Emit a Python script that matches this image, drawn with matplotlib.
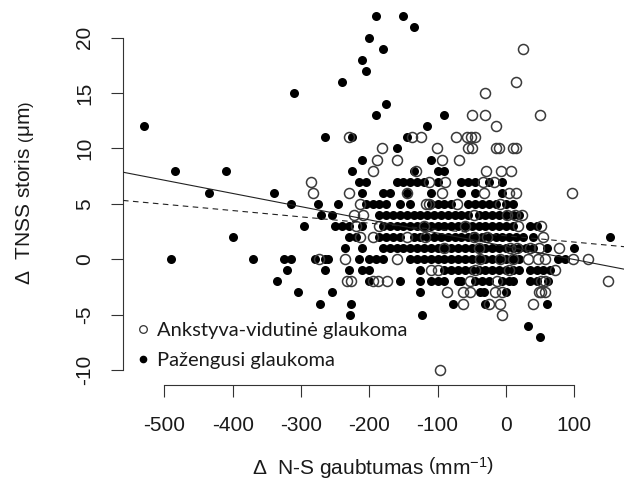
import matplotlib
matplotlib.use('Agg')
import matplotlib.pyplot as plt
from matplotlib.lines import Line2D
from matplotlib.font_manager import FontProperties

plt.rcParams['font.family'] = ['Liberation Sans', 'DejaVu Sans']
plt.rcParams['mathtext.fontset'] = 'custom'
plt.rcParams['mathtext.rm'] = 'Liberation Sans'
plt.rcParams['mathtext.it'] = 'Liberation Sans:italic'
plt.rcParams['axes.unicode_minus'] = False

#%% Data: delta N-S curvature (x) grouped by delta TNSS thickness (y, whole um)
#-------------------------------------------------
# Pažengusi glaukoma (filled points)
adv_rows = {
    22: [-190, -150],
    21: [-135],
    20: [-200],
    19: [-180],
    18: [-210],
    17: [-205],
    16: [-240],
    15: [-310],
    14: [-175],
    13: [-190, -90],
    12: [-530, -115],
    11: [-265, -225, -145],
    10: [-160],
    9: [-210, -110],
    8: [-485, -410, -225, -135, -100, -90],
    7: [-215, -205, -160, -150, -140, -130, -120, -100, -65, -55, -45, -25, -5],
    6: [-435, -340, -210, -180, -170, -145, -110, -65, -45, -5],
    5: [-315, -275, -245, -205, -195, -185, -175, -155, -140, -110, -100, -90,
        -80, -55, -45, -35, -25, -15, 0, 10],
    4: [-270, -255, -185, -175, -165, -155, -145, -135, -125, -115, -105, -95,
        -85, -75, -65, -55, -40, -30, -20, -10, 0, 10, 20],
    3: [-295, -250, -240, -230, -210, -180, -170, -160, -150, -140, -130, -120,
        -110, -100, -90, -80, -70, -60, -50, -40, -30, -20, -10, 0, 10, 35, 45],
    2: [-400, -230, -220, -185, -175, -165, -155, -135, -125, -115, -105, -95,
        -85, -75, -65, -55, -45, -35, -25, -15, -5, 5, 15, 25, 40, 152],
    1: [-235, -210, -180, -170, -160, -150, -140, -130, -120, -110, -100, -90,
        -80, -70, -60, -50, -40, -30, -20, -10, 0, 10, 20, 30, 40, 60, 100],
    0: [-490, -370, -325, -315, -280, -265, -260, -215, -200, -190, -180, -140,
        -130, -120, -110, -100, -90, -80, -70, -60, -50, -40, -30, -20, -10,
        0, 10, 20, 77, 87],
    -1: [-320, -265, -230, -210, -200, -125, -90, -80, -70, -60, -50, -40, -30,
         -20, -10, 0, 10, 20, 35, 45, 55, 65],
    -2: [-335, -200, -155, -125, -110, -100, -90, -70, -65, -45, -35, -25, -5,
         5, 10, 35, 45, 62],
    -3: [-305, -255, -125, -38, -32, 0],
    -4: [-272, -226, -78, -30, 60],
    -5: [-228, -123],
    -6: [32],
    -7: [50],
}

# Ankstyva-vidutinė glaukoma (open points)
early_rows = {
    19: [25],
    16: [15],
    15: [-30],
    13: [-50, -30, 50],
    12: [-15],
    11: [-230, -138, -124, -73, -57, -51, -45],
    10: [-182, -101, -55, -50, -15, -10, 10, 15],
    9: [-188, -160, -94, -69],
    8: [-195, -132, -29, -7, 7],
    7: [-285, -113, -89, -34, -18],
    6: [-283, -229, -145, -94, -32, 5, 15, 97],
    5: [-213, -117, -112, -72, -8],
    4: [-223, -209, -47, 2, 14, 23],
    3: [-220, -185, -120, -60, 18, 52],
    2: [-213, -194, -145, -118, -47, -28, 55],
    1: [-90, -40, 6, 16, 35, 48, 78],
    0: [-273, -235, -160, -38, -8, 11, 33, 47, 57, 98, 121],
    -1: [-110, -100, -45, 5, 72],
    -2: [-233, -226, -194, -187, -174, -52, -13, 52, 57, 150],
    -3: [-86, -62, -52, -16, -6, 48, 52, 57],
    -4: [-62, -25, -8, 40],
    -5: [-6],
    -10: [-96],
}

# fitted lines (intercept, slope)
fit_solid = (1.17, -0.01193)
fit_dashed = (2.12, -0.00569)

x_ticks = [-500, -400, -300, -200, -100, 0, 100]
y_ticks = [-10, -5, 0, 5, 10, 15, 20]
legend_labels = ['Ankstyva-vidutinė glaukoma', 'Pažengusi glaukoma']

adv_x = [x for y, xs in adv_rows.items() for x in xs]
adv_y = [y for y, xs in adv_rows.items() for x in xs]
early_x = [x for y, xs in early_rows.items() for x in xs]
early_y = [y for y, xs in early_rows.items() for x in xs]

#%% Plot
#-------------------------------------------------
fig = plt.figure(figsize=(6.24, 4.84), dpi=100, facecolor='w')
ax = fig.add_axes([123/624, 99/484, 501/624, 385/484])

ax.plot(adv_x, adv_y, 'o', color='black', ms=6.5, mew=0, zorder=2)
ax.plot(early_x, early_y, 'o', mfc='none', mec='#3a3a3a', ms=7.2, mew=1.1, zorder=3)

ax.axline((0, fit_solid[0]), slope=fit_solid[1], color='#222222', lw=0.8, zorder=4)
ax.axline((0, fit_dashed[0]), slope=fit_dashed[1], color='#222222', lw=0.8,
          ls=(0, (5, 4)), zorder=4)

ax.set_xlim(-560.5, 173)
ax.set_ylim(-11.35, 23.4)

for s in ['top', 'right']:
    ax.spines[s].set_visible(False)
ax.spines['left'].set_bounds(-10, 20)
ax.spines['bottom'].set_bounds(-500, 100)
for s in ['left', 'bottom']:
    ax.spines[s].set_color('#333333')
    ax.spines[s].set_linewidth(0.8)

ax.set_xticks(x_ticks)
ax.set_yticks(y_ticks)
ax.tick_params(direction='out', length=8.6, width=0.8, color='#333333',
               labelsize=15, labelcolor='#1a1a1a')
ax.tick_params(axis='x', pad=14)
ax.tick_params(axis='y', pad=12, labelrotation=90)
for lab in ax.get_yticklabels():
    lab.set_va('center')

ax.set_xlabel(r'$\Delta$  N-S gaubtumas $\left(\mathrm{mm}^{-1}\right)$',
              fontsize=15, color='#1a1a1a', labelpad=14)
ax.set_ylabel(r'$\Delta$  TNSS storis $\left(\mathrm{\mu m}\right)$',
              fontsize=15, color='#1a1a1a', labelpad=28)

handles = [Line2D([], [], marker='o', ls='', mfc='white', mec='#333333', ms=5.5, mew=0.9),
           Line2D([], [], marker='o', ls='', color='black', ms=4.5)]
ax.legend(handles, legend_labels, loc='upper left',
          bbox_to_anchor=(137/624, 1 - 322/484), bbox_transform=fig.transFigure,
          frameon=False, prop=FontProperties(family='Lato', size=14.5),
          handlelength=0.6, handletextpad=0.4, labelspacing=0.62,
          borderpad=0, borderaxespad=0, labelcolor='#1a1a1a')

fig.savefig('out.png', dpi=100)
